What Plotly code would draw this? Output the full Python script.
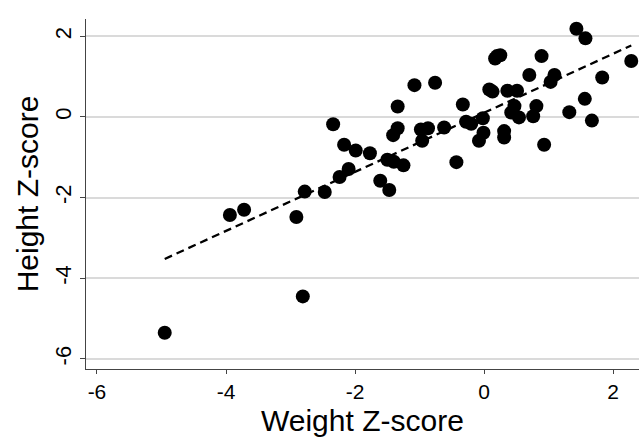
import numpy as np
import plotly.graph_objects as go

weight_z = [1.43, 1.57, 2.28, 1.83, 0.89, 0.70, 1.09, 1.03, 0.20, 0.25, 0.17, 0.08, 0.13, 0.36, 0.51,
            1.56, 0.81, 0.47, 0.42, 0.54, 0.76, 1.32, 1.67, 0.93, 0.31, 0.31, -0.02, -0.01, -0.08,
            -0.33, -0.28, -0.20, -0.43, -0.62, -0.76, -1.08, -1.34, -1.34, -1.41, -0.98, -0.87, -0.96,
            -2.34, -2.17, -1.99, -1.77, -1.50, -1.40, -1.25, -2.10, -2.24, -1.61, -1.47, -2.47, -2.78,
            -3.94, -3.72, -2.91, -2.81, -4.95]
height_z = [2.19, 1.95, 1.39, 0.98, 1.51, 1.04, 1.04, 0.87, 1.51, 1.53, 1.45, 0.68, 0.63, 0.65, 0.65,
            0.45, 0.27, 0.27, 0.11, -0.01, 0.02, 0.12, -0.09, -0.69, -0.35, -0.51, -0.03, -0.39, -0.59,
            0.31, -0.12, -0.17, -1.12, -0.26, 0.85, 0.79, 0.26, -0.28, -0.45, -0.31, -0.28, -0.59,
            -0.18, -0.69, -0.83, -0.90, -1.06, -1.11, -1.20, -1.29, -1.49, -1.58, -1.81, -1.86, -1.85,
            -2.43, -2.30, -2.48, -4.45, -5.35]

x_ticks = [-6, -4, -2, 0, 2]
y_ticks = [-6, -4, -2, 0, 2]
x_title = "Weight Z-score"
y_title = "Height Z-score"

slope, intercept = np.polyfit(weight_z, height_z, 1)
fit_x = np.array([min(weight_z), max(weight_z)])
fit_y = intercept + slope * fit_x

fig = go.Figure()
fig.add_trace(go.Scatter(x=weight_z, y=height_z, mode="markers",
                         marker=dict(color="black", size=14, line=dict(width=0)),
                         showlegend=False))
fig.add_trace(go.Scatter(x=fit_x, y=fit_y, mode="lines",
                         line=dict(color="black", width=2.3, dash="8px,5px"),
                         showlegend=False))

font = "Liberation Sans, Arial, sans-serif"
fig.update_layout(
    width=639, height=437,
    margin=dict(l=86, r=0, t=19, b=68, autoexpand=False),
    paper_bgcolor="white", plot_bgcolor="white",
    font=dict(family=font, color="black"),
    xaxis=dict(range=[-6.17, 2.40], tickvals=x_ticks, ticktext=[str(v) for v in x_ticks],
               showgrid=False, zeroline=False, showline=True, linecolor="#444", linewidth=1.2,
               ticks="outside", ticklen=4, tickcolor="#444", tickfont=dict(size=21)),
    yaxis=dict(range=[-6.25, 2.43], tickvals=y_ticks, ticktext=[str(v) for v in y_ticks],
               showgrid=True, gridcolor="#dadada", gridwidth=1.5, zeroline=False,
               showline=True, linecolor="#444", linewidth=1.2,
               ticks="outside", ticklen=5, tickcolor="#444", tickangle=-90, tickfont=dict(size=22),
               title=dict(text=y_title, font=dict(size=30), standoff=3)),
    annotations=[dict(text=x_title, xref="paper", yref="paper", x=0.5, y=0,
                      xanchor="center", yanchor="top", yshift=-34, showarrow=False,
                      font=dict(size=30), borderpad=0)],
)
fig.write_html("out.html", config={"displayModeBar": False},
               post_script="document.body.style.margin='0';document.body.style.padding='0';")
